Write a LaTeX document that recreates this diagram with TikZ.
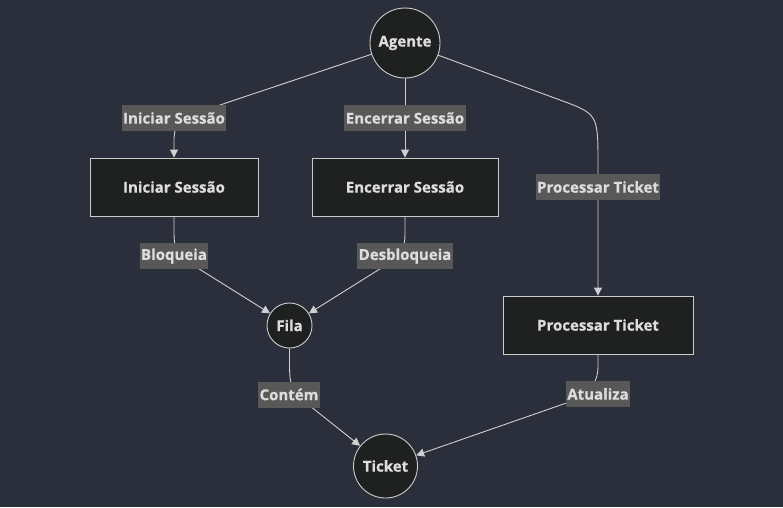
\documentclass[tikz,border=0pt]{standalone}
\usepackage{fontspec}
\setmainfont{Open Sans}[FakeBold=0.7]
\usetikzlibrary{arrows.meta}
\definecolor{bg}{HTML}{2B2F3B}
\definecolor{nodefill}{HTML}{1F2020}
\definecolor{nodeline}{HTML}{CCCCCC}
\definecolor{txt}{HTML}{DDDDDD}
\definecolor{lblfill}{HTML}{585858}
\definecolor{edgecol}{HTML}{D0D0D0}
\begin{document}
\begin{tikzpicture}[x=1pt,y=-1pt,
  font=\fontsize{15}{17}\selectfont\bfseries,
  box/.style={draw=nodeline, fill=nodefill, text=txt, minimum height=58pt, line width=0.9pt, inner sep=0pt},
  circ/.style={circle, draw=nodeline, fill=nodefill, text=txt, line width=0.9pt, inner sep=0pt},
  lbl/.style={fill=lblfill, text=txt, minimum height=26pt, inner sep=0pt, inner xsep=1.5pt},
  conn/.style={draw=edgecol, line width=0.9pt, -{Triangle[length=8pt,width=8pt]}}]
\useasboundingbox[fill=bg] (0,0) rectangle (783,507);
% nodes
\node[circ, minimum size=70pt] (agente) at (405,43) {Agente};
\node[box, minimum width=168pt] (ini) at (174,187) {Iniciar Sessão};
\node[box, minimum width=186pt] (enc) at (405,187) {Encerrar Sessão};
\node[box, minimum width=190pt] (proc) at (598,325) {Processar Ticket};
\node[circ, minimum size=45pt] (fila) at (289.5,325.5) {Fila};
\node[circ, minimum size=64pt] (ticket) at (385.5,466) {Ticket};
% edges
\draw[conn] (agente) -- (205,110) .. controls (176,120) .. (174,138) -- (ini.north);
\draw[conn] (agente) -- (enc.north);
\draw[conn] (agente) -- (560,100) .. controls (598,114) .. (598,165) -- (proc.north);
\draw[conn] (ini.south) -- (174,232) .. controls (174,252) and (178,258) .. (196,267) -- (fila);
\draw[conn] (enc.south) -- (405,232) .. controls (405,252) and (401,258) .. (383,267) -- (fila);
\draw[conn] (fila.south) -- (289.5,365) .. controls (289.5,385) and (292,392) .. (305,402) -- (ticket);
\draw[conn] (proc.south) -- (598,366) .. controls (598,382) and (592,388) .. (575,400) -- (ticket);
% labels
\node[lbl] (l1) at (174,118) {Iniciar Sessão};
\node[lbl] (l2) at (405,118) {Encerrar Sessão};
\node[lbl] (l3) at (598,187) {Processar Ticket};
\node[lbl] (l4) at (174,256) {Bloqueia};
\node[lbl] (l5) at (405,256) {Desbloqueia};
\node[lbl] (l6) at (289,394.5) {Contém};
\node[lbl] (l7) at (598,394) {Atualiza};
\end{tikzpicture}
\end{document}
